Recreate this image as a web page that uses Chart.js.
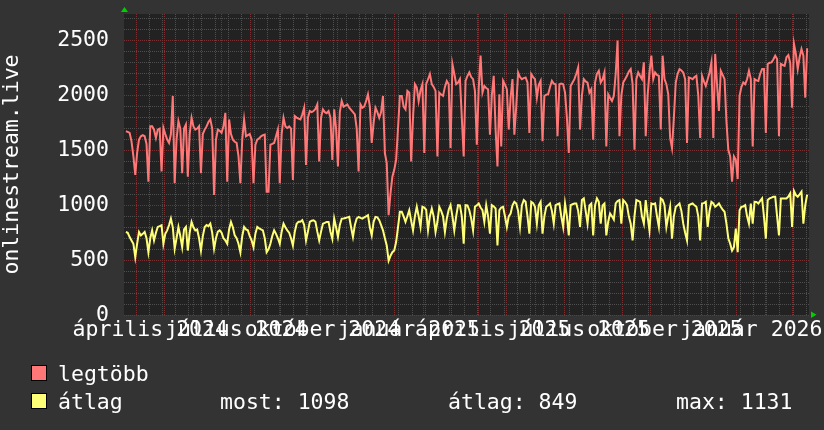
<!DOCTYPE html>
<html>
<head>
<meta charset="utf-8">
<script src="https://cdn.jsdelivr.net/npm/chart.js@4.4.1/dist/chart.umd.min.js"></script>
<style>
    body { margin: 0; background: #333; }
    #wrap { position: relative; width: 824px; height: 430px; }
    #c { position: absolute; left: 0; top: 0; }
    .lg { position: absolute; font: 21.5px "DejaVu Sans Mono"; color: #fff; line-height: 24px; white-space: pre; }
    .sw { position: absolute; width: 14px; height: 14px; border: 1px solid #000; }
</style>
</head>
<body>
<div id="wrap">
    <canvas id="c" width="824" height="430"></canvas>
    <div id="legend"></div>
</div>
<script>
// graph runs from 2024-03-19, 730 days, one sample every 2 days starting on day 2
const startUtc = Date.UTC(2024, 2, 19);
const spanDays = 730;
const firstDay = 2;
const stepDays = 2;

const monthNames = ['január','február','március','április','május','június','július','augusztus','szeptember','október','november','december'];
const labelMonths = [[2024,3],[2024,6],[2024,9],[2025,0],[2025,3],[2025,6],[2025,9],[2026,0]];
const yGrid = [0,100,200,300,400,500,600,700,800,900,1000,1100,1200,1300,1400,1500,1600,1700,1800,1900,2000,2100,2200,2300,2400,2500,2600,2700];
const yMax = 2745;

const seriesNames = ['legtöbb', 'átlag'];
const seriesColors = ['#ff7777', '#ffff77'];
const avgStats = [['most', 1098], ['átlag', 849], ['max', 1131]];

// legtöbb
const peak = [
    1676,1670,1661,1584,1450,1278,1480,1600,1630,1640,
    1630,1560,1216,1722,1722,1690,1615,1691,1700,1308,
    1706,1650,1599,1569,1650,1998,1201,1600,1768,1700,
    1293,1700,1737,1262,1650,1798,1720,1691,1700,1722,
    1293,1650,1691,1720,1760,1783,1700,1094,1600,1691,
    1680,1661,1720,1844,1216,1783,1650,1599,1580,1569,
    1450,1201,1600,1783,1630,1640,1650,1600,1201,1550,
    1599,1610,1630,1640,1645,1124,1124,1553,1560,1569,
    1630,1691,1201,1650,1798,1720,1706,1720,1700,1232,
    1814,1800,1790,1783,1830,1890,1369,1800,1860,1850,
    1860,1880,1921,1400,1800,1875,1850,1840,1860,1800,
    1415,1875,1700,1354,1850,1952,1900,1910,1921,1890,
    1870,1850,1830,1700,1308,1921,1890,1900,1950,2013,
    1900,1569,1750,1890,1850,1798,1850,1998,1477,1385,
    910,1109,1262,1324,1415,1700,1998,1998,1900,1875,
    2044,2028,1400,1800,2105,2074,1952,2050,2105,1477,
    2105,2150,2197,2105,2080,2044,1446,2028,2010,1998,
    2080,2135,2105,1523,2288,2200,2105,2120,2151,1800,
    1446,2135,2180,2212,2170,2151,2044,1553,2059,2365,
    2028,2089,2070,2059,1645,2000,2181,1691,1354,2013,
    1538,2135,2100,2059,1691,1982,2151,1645,1900,2212,
    2170,2151,2160,2166,2120,1661,2197,2170,2151,1982,
    2100,2135,1584,1998,2010,2013,2080,2135,2110,2105,
    1630,2105,2110,2105,2028,1800,1477,2089,2120,2151,
    2200,2258,1691,2000,2151,2130,2120,2028,2059,1599,
    2120,2200,2227,2120,2150,2212,1538,2013,1980,1952,
    1998,2200,2503,1630,2000,2120,2150,2181,2220,2243,
    2105,1507,2151,2212,2180,2151,2304,1630,2000,2212,
    2365,2151,2212,2190,2181,1691,2365,2151,2105,2013,
    1615,1523,1800,2120,2200,2243,2230,2212,2151,1569,
    2166,2160,2151,2170,2181,2000,1615,2181,2130,2089,
    2150,2212,2304,1615,2381,2100,1860,2227,2190,2151,
    1768,1507,1446,1216,1446,1415,1240,1998,2080,2120,
    2105,2150,2227,2151,1538,2151,2140,2135,2200,2243,
    2243,1661,2289,2300,2304,2330,2365,2335,1630,2289,
    2280,2273,2350,2370,2300,1890,2472,2381,2243,2350,
    2426,2365,1982,2433
];

// átlag
const avg = [
    757,750,711,680,650,527,650,757,726,740,
    757,700,573,700,772,680,750,803,810,818,
    650,740,772,820,879,800,604,700,803,720,
    619,780,803,588,750,849,800,772,780,700,
    588,720,803,820,810,833,750,604,700,760,
    772,750,700,680,650,780,849,800,726,700,
    650,573,720,803,780,772,720,680,619,740,
    803,790,780,772,700,573,600,650,720,772,
    740,700,650,760,833,800,772,750,700,634,
    760,833,850,850,864,820,680,760,849,860,
    864,850,760,680,760,833,840,849,849,760,
    695,879,800,711,820,879,880,885,890,895,
    800,711,820,880,895,885,879,890,900,910,
    800,726,850,895,890,864,820,772,700,634,
    496,540,573,588,665,800,941,941,900,849,
    900,956,860,772,900,987,900,803,987,980,
    960,772,900,971,900,757,850,987,950,900,
    757,880,960,1002,900,772,900,1002,1000,900,
    650,1002,1000,956,880,772,987,1000,1017,980,
    956,849,1002,900,741,1002,990,971,634,956,
    980,987,900,803,900,925,1000,1032,1017,950,
    803,1000,1048,1032,900,741,1032,1020,987,833,
    1000,1032,741,900,987,1000,1017,950,833,1002,
    1010,1017,900,803,1017,900,726,1002,1010,1017,
    1017,950,803,1048,1063,950,833,1000,1017,726,
    1000,1063,1032,833,1000,1017,726,850,925,900,
    870,1017,1040,1048,833,1048,1030,1002,900,833,
    680,900,1048,1040,1032,900,833,1048,900,772,
    1017,1010,1017,900,803,1063,1050,1002,803,900,
    987,695,900,987,1000,1017,950,833,750,680,
    1002,1010,1017,1000,987,900,680,1017,1020,1032,
    803,950,1032,1017,987,1000,1017,987,960,941,
    833,700,650,588,619,787,573,956,987,990,
    1002,900,833,1017,833,1032,1030,1017,1040,1063,
    900,695,1048,1063,1070,1078,1078,900,726,1063,
    1063,1063,1063,1080,1109,803,1131,1094,1078,1100,
    1124,833,1000,1098
];

const FONT = { family: 'DejaVu Sans Mono', size: 21.5 };
const MAJOR = '#7a3030';
const MINOR = '#4e4e4e';
const dayOf = (y, m, d) => (Date.UTC(y, m, d) - startUtc) / 864e5;

// month starts = red grid, every 2nd monday = grey grid, month middles = labels
const majorDays = new Set();
for (let k = 0; ; k++) {
    const d = dayOf(2024, 3 + k, 1);
    if (d > spanDays) break;
    majorDays.add(d);
}
const minorDays = new Set();
for (let d = dayOf(2024, 3, 1); d <= spanDays; d += 14) minorDays.add(d);
const labelAt = new Map();
labelMonths.forEach(([y, m]) => {
    const mid = (dayOf(y, m, 1) + dayOf(y, m + 1, 1)) / 2;
    labelAt.set(mid, `${monthNames[m]} ${y}`);
});
const xTicks = [...new Set([...majorDays, ...minorDays, ...labelAt.keys()])].sort((a, b) => a - b);

const toPoints = arr => arr.map((v, i) => ({ x: firstDay + i * stepDays, y: v }));

const plotFrame = {
    id: 'plotFrame',
    beforeDraw(chart) {
        const { ctx, chartArea: a } = chart;
        ctx.save();
        ctx.fillStyle = '#222';
        ctx.fillRect(a.left, a.top, a.right - a.left, a.bottom - a.top);
        ctx.restore();
    },
    afterDraw(chart) {
        const { ctx, chartArea: a } = chart;
        ctx.save();
        ctx.fillStyle = '#00d000';
        // y axis arrow
        ctx.beginPath();
        ctx.moveTo(a.left - 3, a.top - 2);
        ctx.lineTo(a.left + 4, a.top - 2);
        ctx.lineTo(a.left + 0.5, a.top - 7);
        ctx.fill();
        // x axis arrow
        ctx.beginPath();
        ctx.moveTo(a.right + 2, a.bottom - 3.5);
        ctx.lineTo(a.right + 2, a.bottom + 3);
        ctx.lineTo(a.right + 7.5, a.bottom - 0.25);
        ctx.fill();
        ctx.restore();
    }
};

new Chart(document.getElementById('c'), {
    type: 'line',
    data: {
        datasets: [
            { label: seriesNames[0], data: toPoints(peak), borderColor: seriesColors[0] },
            { label: seriesNames[1], data: toPoints(avg), borderColor: seriesColors[1] }
        ]
    },
    options: {
        responsive: false,
        animation: false,
        layout: { padding: { left: 0, right: 15, top: 14, bottom: 85 } },
        plugins: { legend: { display: false }, tooltip: { enabled: false } },
        elements: { point: { radius: 0 }, line: { tension: 0, borderWidth: 2, fill: false } },
        scales: {
            x: {
                type: 'linear', min: 0, max: spanDays,
                afterBuildTicks: s => { s.ticks = xTicks.map(v => ({ value: v })); },
                afterFit: s => { s.height = 30; s.paddingLeft = 0; s.paddingRight = 0; },
                ticks: {
                    autoSkip: false, maxRotation: 0, minRotation: 0, padding: 3,
                    color: '#fff', font: FONT,
                    callback: v => labelAt.get(v) || ''
                },
                grid: {
                    drawTicks: false, lineWidth: 1,
                    color: c => {
                        const v = c.tick ? c.tick.value : null;
                        if (majorDays.has(v)) return MAJOR;
                        if (minorDays.has(v)) return MINOR;
                        return 'rgba(0,0,0,0)';
                    }
                },
                border: { display: false, dash: [1, 1] }
            },
            y: {
                min: 0, max: yMax,
                afterBuildTicks: s => { s.ticks = yGrid.map(v => ({ value: v })); },
                afterFit: s => { s.width = 124; s.paddingTop = 0; s.paddingBottom = 0; },
                title: { display: true, text: 'onlinestream.live', color: '#fff', font: FONT, padding: 0 },
                ticks: {
                    autoSkip: false, padding: 15, color: '#fff', font: FONT,
                    callback: v => (v % 500 === 0 ? String(v) : '')
                },
                grid: {
                    drawTicks: false, lineWidth: 1,
                    color: c => (c.tick && c.tick.value % 500 === 0 ? MAJOR : MINOR)
                },
                border: { display: false, dash: [1, 1] }
            }
        }
    },
    plugins: [plotFrame]
});

// rrdtool style legend
const legend = document.getElementById('legend');
const rows = [
    { top: 362, swatchTop: 365 },
    { top: 390, swatchTop: 393 }
];
seriesNames.forEach((name, i) => {
    legend.innerHTML += `<div class="sw" style="left:31px;top:${rows[i].swatchTop}px;background:${seriesColors[i]}"></div>`;
    legend.innerHTML += `<div class="lg" style="left:58px;top:${rows[i].top}px">${name}</div>`;
});
const statX = [220, 448, 676];
avgStats.forEach(([k, v], i) => {
    legend.innerHTML += `<div class="lg" style="left:${statX[i]}px;top:${rows[1].top}px">${k}: ${v}</div>`;
});
</script>
</body>
</html>
